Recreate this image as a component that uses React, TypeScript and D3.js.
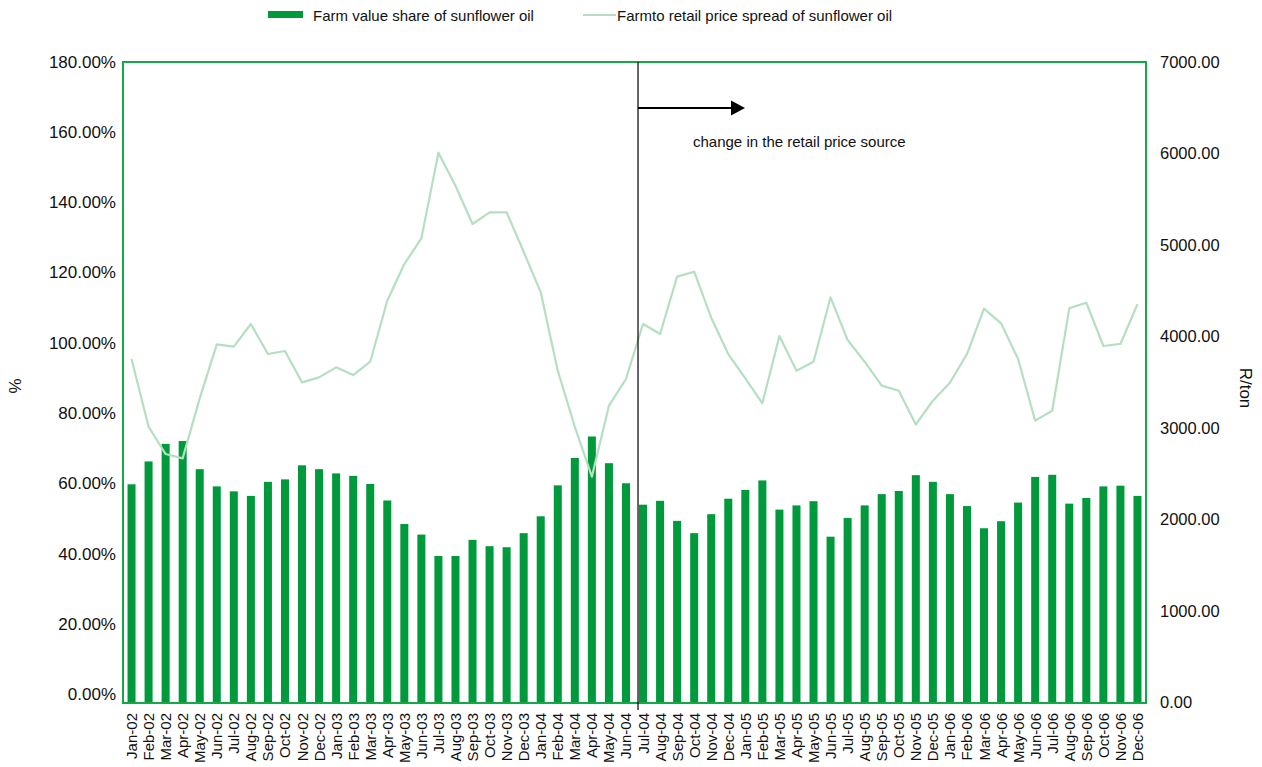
import React from "react";
import * as d3 from "d3";

// Monthly categories Jan-02 .. Dec-06
const years = ["02", "03", "04", "05", "06"];
const monthNames = ["Jan", "Feb", "Mar", "Apr", "May", "Jun", "Jul", "Aug", "Sep", "Oct", "Nov", "Dec"];
const months: string[] = years.flatMap((y) => monthNames.map((m) => `${m}-${y}`));

// Farm value share of sunflower oil (%)
const farmShare = [
  59.9, 66.4, 71.4, 72.2, 64.2, 59.3, 57.9, 56.6, 60.6, 61.3, 65.3, 64.2,
  63.0, 62.3, 60.0, 55.3, 48.6, 45.6, 39.5, 39.5, 44.1, 42.3, 42.0, 46.0,
  50.8, 59.6, 67.4, 73.5, 65.9, 60.2, 54.1, 55.2, 49.5, 46.0, 51.4, 55.8,
  58.3, 61.0, 52.7, 53.9, 55.1, 45.0, 50.3, 53.9, 57.1, 58.0, 62.5, 60.6,
  57.1, 53.7, 47.4, 49.4, 54.7, 62.0, 62.6, 54.4, 56.0, 59.3, 59.5, 56.6,
];

// Farm-to-retail price spread of sunflower oil (R/ton)
const priceSpread = [
  3751, 3011, 2712, 2665, 3321, 3912, 3886, 4134, 3806, 3839, 3496, 3551,
  3660, 3576, 3722, 4389, 4790, 5071, 6008, 5647, 5228, 5356, 5356, 4925,
  4481, 3624, 3010, 2464, 3241, 3533, 4134, 4025, 4652, 4706, 4203, 3806,
  3540, 3267, 4003, 3624, 3722, 4426, 3959, 3722, 3460, 3405, 3035, 3296,
  3492, 3806, 4302, 4142, 3751, 3077, 3186, 4306, 4367, 3894, 3916, 4350,
];

const leftTicks = [0, 20, 40, 60, 80, 100, 120, 140, 160, 180];
const rightTicks = [0, 1000, 2000, 3000, 4000, 5000, 6000, 7000];

const barLabel = "Farm value share of sunflower oil";
const lineLabel = "Farmto retail price spread of sunflower oil";
const noteLabel = "change in the retail price source";
const sourceChangeMonth = "Jul-04";

const W = 1262;
const H = 767;
const plot = { left: 123, right: 1146, top: 62, bottom: 703 };

const FONT = "'Liberation Sans', Arial, sans-serif";
const BAR = "#009a3d";
const FRAME = "#14a84a";
const LINE = "#b5dfc2";

export default function App() {
  const x = d3
    .scaleBand<string>()
    .domain(months)
    .range([plot.left, plot.right])
    .paddingInner(0)
    .paddingOuter(0);
  const bw = x.bandwidth();
  const barW = bw * 0.47;

  const yLeft = d3.scaleLinear().domain([-2.3, 180]).range([plot.bottom, plot.top]);
  const yRight = d3.scaleLinear().domain([0, 7000]).range([plot.bottom - 1, plot.top]);

  const cx = (m: string) => (x(m) as number) + bw / 2;

  const linePath = d3
    .line<number>()
    .x((_, i) => cx(months[i]))
    .y((d) => yRight(d))(priceSpread) as string;

  const markerX = cx(sourceChangeMonth) - barW / 2 - 1;
  const arrowY = 108;
  const arrowTip = 745;

  return (
    <svg
      width={W}
      height={H}
      style={{ position: "absolute", left: 0, top: 0, background: "#fff" }}
      fontFamily={FONT}
    >
      {/* legend */}
      <rect x={268} y={11} width={35} height={7} fill={BAR} />
      <text x={313} y={15} fontSize={15} dominantBaseline="central" fill="#111">
        {barLabel}
      </text>
      <line x1={583} x2={616} y1={15} y2={15} stroke={LINE} strokeWidth={2} />
      <text x={617} y={15} fontSize={15} dominantBaseline="central" fill="#111">
        {lineLabel}
      </text>

      {/* bars */}
      {months.map((m, i) => (
        <rect
          key={m}
          x={cx(m) - barW / 2}
          y={yLeft(farmShare[i])}
          width={barW}
          height={plot.bottom - yLeft(farmShare[i])}
          fill={BAR}
        />
      ))}

      {/* price spread line */}
      <path d={linePath} fill="none" stroke={LINE} strokeWidth={2.2} strokeLinejoin="round" />

      {/* plot frame */}
      <rect
        x={plot.left}
        y={plot.top}
        width={plot.right - plot.left}
        height={plot.bottom - plot.top}
        fill="none"
        stroke={FRAME}
        strokeWidth={2}
      />

      {/* retail price source change marker */}
      <line x1={markerX} x2={markerX} y1={plot.top} y2={plot.bottom + 7} stroke="#000" strokeWidth={1.2} />
      <line x1={markerX} x2={arrowTip - 13} y1={arrowY} y2={arrowY} stroke="#000" strokeWidth={2} />
      <path d={`M${arrowTip - 14},${arrowY - 7.5} L${arrowTip},${arrowY} L${arrowTip - 14},${arrowY + 7.5} Z`} fill="#000" />
      <text x={693} y={141} fontSize={15} dominantBaseline="central" fill="#111">
        {noteLabel}
      </text>

      {/* left axis */}
      {leftTicks.map((t) => (
        <text
          key={t}
          x={116}
          y={yLeft(t)}
          fontSize={17}
          textAnchor="end"
          dominantBaseline="central"
          fill="#111"
        >
          {`${t.toFixed(2)}%`}
        </text>
      ))}
      <text
        transform={`translate(15,386) rotate(-90)`}
        fontSize={17}
        textAnchor="middle"
        dominantBaseline="central"
        fill="#111"
      >
        %
      </text>

      {/* right axis */}
      {rightTicks.map((t) => (
        <text
          key={t}
          x={1160}
          y={yRight(t)}
          fontSize={16.5}
          textAnchor="start"
          dominantBaseline="central"
          fill="#111"
        >
          {t.toFixed(2)}
        </text>
      ))}
      <text
        transform={`translate(1245,388) rotate(90)`}
        fontSize={17}
        textAnchor="middle"
        dominantBaseline="central"
        fill="#111"
      >
        R/ton
      </text>

      {/* month labels */}
      {months.map((m) => (
        <text
          key={m}
          transform={`translate(${cx(m)},713) rotate(-90)`}
          fontSize={15}
          textAnchor="end"
          dominantBaseline="central"
          fill="#111"
        >
          {m}
        </text>
      ))}
    </svg>
  );
}
